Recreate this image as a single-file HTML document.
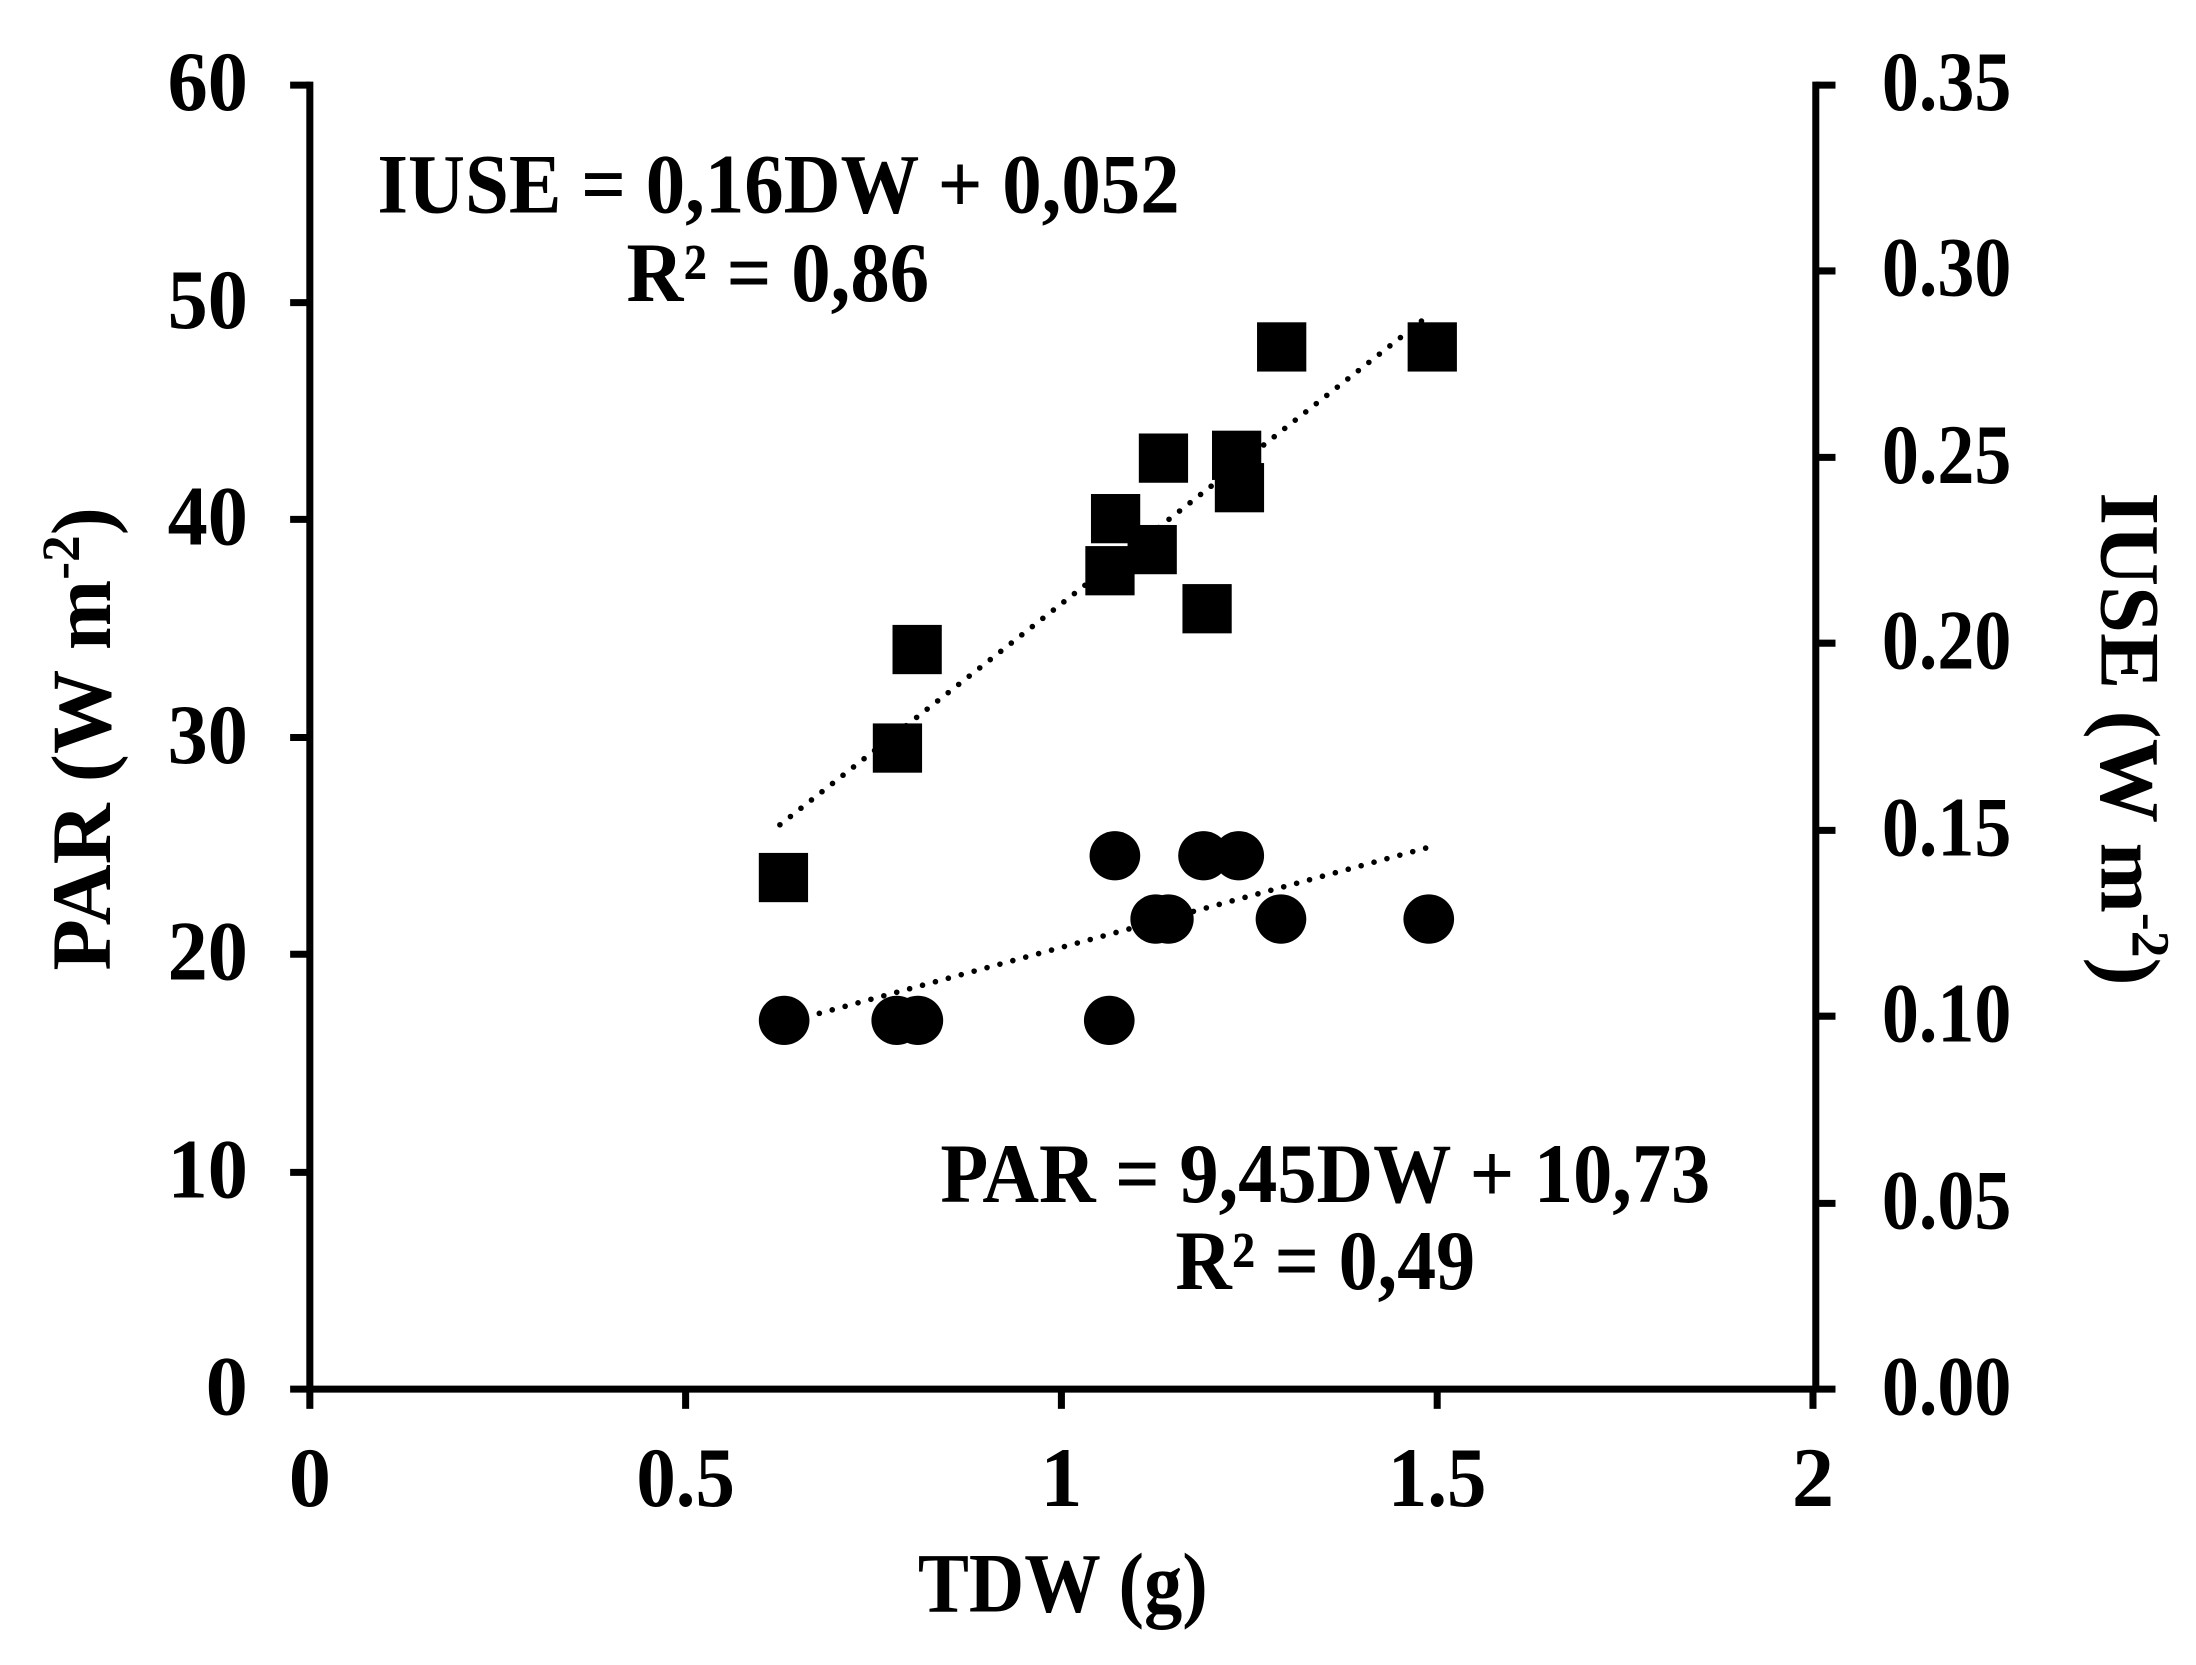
<!DOCTYPE html>
<html><head><meta charset="utf-8"><style>
html,body{margin:0;padding:0;background:#fff;}
svg{display:block;}
text{font-family:"Liberation Serif","Times New Roman",serif;font-weight:bold;fill:#000;}
</style></head><body>
<svg width="2196" height="1665" viewBox="0 0 1560 1183" xmlns="http://www.w3.org/2000/svg">
<rect width="1560" height="1183" fill="#fff"/>
<g stroke="#000" stroke-width="5" fill="none">
<line x1="220" y1="58" x2="220" y2="989"/>
<line x1="206" y1="987" x2="1304" y2="987"/>
<line x1="1290" y1="58" x2="1290" y2="989"/>
<line x1="206" y1="60.5" x2="220" y2="60.5"/>
<line x1="206" y1="215" x2="220" y2="215"/>
<line x1="206" y1="369" x2="220" y2="369"/>
<line x1="206" y1="524" x2="220" y2="524"/>
<line x1="206" y1="678" x2="220" y2="678"/>
<line x1="206" y1="833" x2="220" y2="833"/>
<line x1="1290" y1="60.5" x2="1304" y2="60.5"/>
<line x1="1290" y1="192.5" x2="1304" y2="192.5"/>
<line x1="1290" y1="325" x2="1304" y2="325"/>
<line x1="1290" y1="457" x2="1304" y2="457"/>
<line x1="1290" y1="590" x2="1304" y2="590"/>
<line x1="1290" y1="722" x2="1304" y2="722"/>
<line x1="1290" y1="855" x2="1304" y2="855"/>
<line x1="220" y1="987" x2="220" y2="1001"/>
<line x1="487" y1="987" x2="487" y2="1001"/>
<line x1="754" y1="987" x2="754" y2="1001"/>
<line x1="1021" y1="987" x2="1021" y2="1001"/>
<line x1="1288" y1="987" x2="1288" y2="1001"/>
</g>
<g font-size="60" text-anchor="end">
<text x="176" y="78" textLength="57" lengthAdjust="spacingAndGlyphs">60</text>
<text x="176" y="233" textLength="57" lengthAdjust="spacingAndGlyphs">50</text>
<text x="176" y="387" textLength="57" lengthAdjust="spacingAndGlyphs">40</text>
<text x="176" y="542" textLength="57" lengthAdjust="spacingAndGlyphs">30</text>
<text x="176" y="696" textLength="57" lengthAdjust="spacingAndGlyphs">20</text>
<text x="176" y="851" textLength="57" lengthAdjust="spacingAndGlyphs">10</text>
<text x="176" y="1005">0</text>
</g>
<g font-size="60" text-anchor="start">
<text x="1337" y="78" textLength="92" lengthAdjust="spacingAndGlyphs">0.35</text>
<text x="1337" y="210" textLength="92" lengthAdjust="spacingAndGlyphs">0.30</text>
<text x="1337" y="343" textLength="92" lengthAdjust="spacingAndGlyphs">0.25</text>
<text x="1337" y="475" textLength="92" lengthAdjust="spacingAndGlyphs">0.20</text>
<text x="1337" y="608" textLength="92" lengthAdjust="spacingAndGlyphs">0.15</text>
<text x="1337" y="740" textLength="92" lengthAdjust="spacingAndGlyphs">0.10</text>
<text x="1337" y="873" textLength="92" lengthAdjust="spacingAndGlyphs">0.05</text>
<text x="1337" y="1005" textLength="92" lengthAdjust="spacingAndGlyphs">0.00</text>
</g>
<g font-size="60" text-anchor="middle">
<text x="220" y="1070">0</text>
<text x="487" y="1070" textLength="70" lengthAdjust="spacingAndGlyphs">0.5</text>
<text x="754" y="1070">1</text>
<text x="1021" y="1070" textLength="70" lengthAdjust="spacingAndGlyphs">1.5</text>
<text x="1288" y="1070">2</text>
</g>
<text font-size="60" x="652" y="1145" textLength="206" lengthAdjust="spacingAndGlyphs">TDW (g)</text>
<text font-size="60" text-anchor="middle" transform="translate(78,525) rotate(-90)">PAR (W m<tspan font-size="38" dy="-22">-2</tspan><tspan dy="22">)</tspan></text>
<text font-size="60" text-anchor="middle" transform="translate(1493,525) rotate(90)">IUSE (W m<tspan font-size="38" dy="-22">-2</tspan><tspan dy="22">)</tspan></text>
<g font-size="60">
<text x="268" y="151" textLength="570" lengthAdjust="spacingAndGlyphs">IUSE = 0,16DW + 0,052</text>
<text x="445" y="214" textLength="215" lengthAdjust="spacingAndGlyphs">R² = 0,86</text>
<text x="668" y="854" textLength="547" lengthAdjust="spacingAndGlyphs">PAR = 9,45DW + 10,73</text>
<text x="835" y="916" textLength="213" lengthAdjust="spacingAndGlyphs">R² = 0,49</text>
</g>
<g stroke="#000" stroke-width="4" stroke-linecap="round" stroke-dasharray="0 9.5" fill="none">
<line x1="554" y1="586" x2="1010" y2="228"/>
<line x1="582" y1="720" x2="1015" y2="602"/>
</g>
<g fill="#000">
<rect x="539" y="606" width="35" height="35"/>
<rect x="620" y="514" width="35" height="35"/>
<rect x="634" y="444" width="35" height="35"/>
<rect x="771" y="388" width="35" height="35"/>
<rect x="775" y="351" width="35" height="35"/>
<rect x="801" y="373" width="35" height="35"/>
<rect x="809" y="308" width="35" height="35"/>
<rect x="840" y="415" width="35" height="35"/>
<rect x="861" y="306" width="35" height="35"/>
<rect x="863" y="329" width="35" height="35"/>
<rect x="893" y="229" width="35" height="35"/>
<rect x="1000" y="229" width="35" height="35"/>
<ellipse cx="557" cy="725" rx="18" ry="17.5"/>
<ellipse cx="637" cy="725" rx="18" ry="17.5"/>
<ellipse cx="652" cy="725" rx="18" ry="17.5"/>
<ellipse cx="788" cy="725" rx="18" ry="17.5"/>
<ellipse cx="792" cy="608" rx="18" ry="17.5"/>
<ellipse cx="821" cy="653" rx="18" ry="17.5"/>
<ellipse cx="830" cy="653" rx="18" ry="17.5"/>
<ellipse cx="855" cy="608" rx="18" ry="17.5"/>
<ellipse cx="880" cy="608" rx="18" ry="17.5"/>
<ellipse cx="910" cy="653" rx="18" ry="17.5"/>
<ellipse cx="1015" cy="653" rx="18" ry="17.5"/>
</g>
</svg>
</body></html>
